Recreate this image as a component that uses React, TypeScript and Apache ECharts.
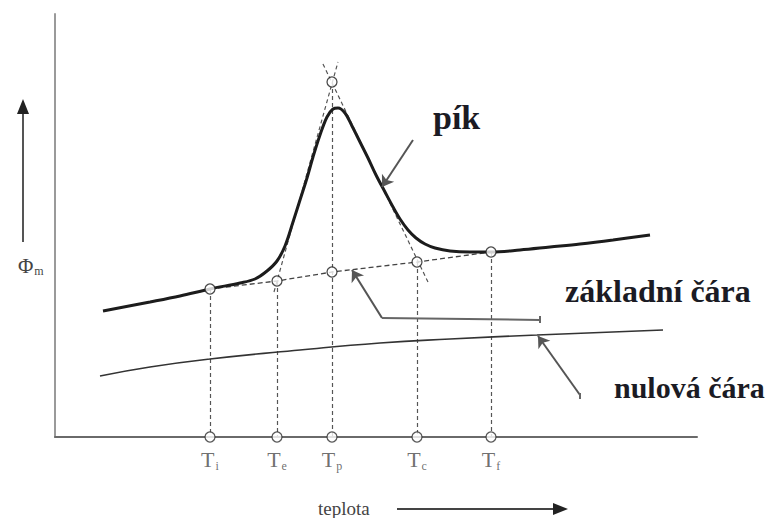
import { useEffect, useRef } from "react";
import * as echarts from "echarts";

const SERIF = "'Liberation Serif', 'Times New Roman', serif";

// DSC trace: temperature vs. heat flow Φm (both in arbitrary units)
const curveT = [48, 95, 125, 155, 185, 200, 212, 222, 230, 238, 245, 252, 258, 265, 272, 278, 283, 290, 297, 305, 313, 321, 330, 338, 345, 353, 361, 370, 380, 395, 415, 436, 465, 495, 525, 558, 595];
const curvePhi = [126, 135, 141, 148, 154, 158, 166, 176, 191, 215, 237, 259, 280, 302, 320, 328, 329, 324, 311, 295, 279, 262, 245, 230, 218, 207, 199, 193, 189, 186, 185, 185, 187, 190, 193, 197, 202];

// Instrument zero line
const zeroT = [45, 95, 155, 245, 325, 395, 482, 608];
const zeroPhi = [61, 70, 78, 87, 94, 98, 102, 107];

// Characteristic temperatures and the interpolated baseline under each of them
const eventKeys = ["i", "e", "p", "c", "f"];
const eventT = [155, 222, 277, 362, 436];
const eventBasePhi = [148, 156, 165, 175, 185];

// Intersection of the two inflection tangents above the peak
const apexT = 277;
const apexPhi = 355;

// Inflection tangents [start, end]
const leftTangent = [[219, 145], [283, 375]];
const rightTangent = [[373, 155], [267, 375]];

// Pointer arrows (tip first)
const peakPointer = [[327, 250], [358, 297]];
const basePointer = [[297, 167], [327, 119]];
const basePointerTail = [[327, 119], [485, 117]];
const zeroPointer = [[483, 101], [525, 42]];
const pointerEndTicks = [[[485, 114], [485, 121]], [[525, 38], [525, 44]]];

const T_MAX = 642;
const PHI_MAX = 423;

export default function App() {
  const ref = useRef<HTMLDivElement>(null);

  useEffect(() => {
    document.body.style.margin = "0";
    const chart = echarts.init(ref.current!, undefined, { renderer: "svg" });

    const pts = (xs: number[], ys: number[]) => xs.map((x, i) => [x, ys[i]]);
    const drops = eventT.map((t, i) => ({
      coords: [[t, eventKeys[i] === "p" ? apexPhi : eventBasePhi[i]], [t, 0]],
    }));

    chart.setOption({
      animation: false,
      textStyle: { fontFamily: SERIF },
      grid: { left: 55, top: 14, width: 642, height: 423, outerBoundsMode: "none" },
      xAxis: {
        type: "value",
        min: 0,
        max: T_MAX,
        axisLine: { show: true, lineStyle: { color: "#6a6a6a", width: 2 } },
        axisTick: { show: false },
        axisLabel: { show: false },
        splitLine: { show: false },
      },
      yAxis: {
        type: "value",
        min: 0,
        max: PHI_MAX,
        axisLine: { show: true, lineStyle: { color: "#9a9a9a", width: 2 } },
        axisTick: { show: false },
        axisLabel: { show: false },
        splitLine: { show: false },
      },
      series: [
        {
          name: "nulová čára",
          type: "line",
          data: pts(zeroT, zeroPhi),
          smooth: true,
          symbol: "none",
          silent: true,
          lineStyle: { color: "#333", width: 1.6 },
          z: 3,
        },
        {
          name: "DSC",
          type: "line",
          data: pts(curveT, curvePhi),
          smooth: 0.35,
          symbol: "none",
          silent: true,
          lineStyle: { color: "#1c1c1c", width: 3 },
          z: 4,
        },
        {
          name: "základní čára",
          type: "line",
          data: pts(eventT, eventBasePhi),
          symbol: "none",
          silent: true,
          lineStyle: { color: "#444", width: 1.3, type: [5, 3] },
          z: 3,
        },
        {
          name: "construction",
          type: "lines",
          coordinateSystem: "cartesian2d",
          silent: true,
          symbol: "none",
          data: [...drops, { coords: leftTangent }, { coords: rightTangent }],
          lineStyle: { color: "#555", width: 1.2, type: [4, 3], opacity: 1 },
          z: 2,
        },
        {
          name: "pointers",
          type: "lines",
          coordinateSystem: "cartesian2d",
          silent: true,
          symbol: ["arrow", "none"],
          symbolSize: [11, 15],
          data: [{ coords: peakPointer }, { coords: basePointer }, { coords: zeroPointer }],
          lineStyle: { color: "#555", width: 2, opacity: 1 },
          itemStyle: { color: "#222" },
          z: 5,
        },
        {
          name: "pointer tails",
          type: "lines",
          coordinateSystem: "cartesian2d",
          silent: true,
          symbol: "none",
          data: [{ coords: basePointerTail }, ...pointerEndTicks.map((c) => ({ coords: c }))],
          lineStyle: { color: "#666", width: 2, opacity: 1 },
          z: 5,
        },
        {
          name: "points",
          type: "scatter",
          silent: true,
          symbol: "circle",
          symbolSize: 10,
          data: [...pts(eventT, eventBasePhi), [apexT, apexPhi]],
          itemStyle: { color: "#fff", borderColor: "#222", borderWidth: 1.3 },
          z: 6,
        },
        {
          name: "temperatures",
          type: "scatter",
          silent: true,
          symbol: "circle",
          symbolSize: 10,
          data: eventT.map((t, i) => ({ value: [t, 0], name: eventKeys[i] })),
          itemStyle: { color: "#fff", borderColor: "#333", borderWidth: 1.3 },
          label: {
            show: true,
            position: "bottom",
            distance: 6,
            formatter: (p: any) => `{t|T}{s|${p.name}}`,
            rich: {
              t: { fontSize: 22, fontFamily: SERIF, color: "#4a4a4a", verticalAlign: "top" },
              s: { fontSize: 12, fontFamily: SERIF, color: "#4a4a4a", verticalAlign: "top", padding: [11, 0, 0, 1] },
            },
          },
          z: 6,
        },
      ],
      graphic: [
        { type: "line", shape: { x1: 23, y1: 242, x2: 23, y2: 112 }, style: { stroke: "#555", lineWidth: 2 } },
        { type: "polygon", shape: { points: [[23, 99], [17, 114], [29, 114]] }, style: { fill: "#222" } },
        {
          type: "text",
          x: 18,
          y: 266,
          style: {
            text: "{a|Φ}{b|m}",
            verticalAlign: "middle",
            rich: {
              a: { fontSize: 21, fontFamily: SERIF, fill: "#444", verticalAlign: "top" },
              b: { fontSize: 12, fontFamily: SERIF, fill: "#444", verticalAlign: "top", padding: [10, 0, 0, 1] },
            },
          },
        },
        {
          type: "text",
          x: 318,
          y: 508,
          style: { text: "teplota", fontSize: 19, fontFamily: SERIF, fill: "#444", verticalAlign: "middle" },
        },
        { type: "line", shape: { x1: 397, y1: 509, x2: 556, y2: 509 }, style: { stroke: "#444", lineWidth: 2 } },
        { type: "polygon", shape: { points: [[568, 509], [553, 503], [553, 515]] }, style: { fill: "#222" } },
        {
          type: "text",
          x: 433,
          y: 117,
          style: { text: "pík", fontSize: 34, fontWeight: "bold", fontFamily: SERIF, fill: "#1b1b24", verticalAlign: "middle" },
        },
        {
          type: "text",
          x: 565,
          y: 291,
          style: { text: "základní čára", fontSize: 32, fontWeight: "bold", fontFamily: SERIF, fill: "#1b1b24", verticalAlign: "middle" },
        },
        {
          type: "text",
          x: 614,
          y: 387,
          style: { text: "nulová čára", fontSize: 30, fontWeight: "bold", fontFamily: SERIF, fill: "#1b1b24", verticalAlign: "middle" },
        },
      ],
    });

    return () => chart.dispose();
  }, []);

  return <div ref={ref} style={{ width: 771, height: 518 }} />;
}
